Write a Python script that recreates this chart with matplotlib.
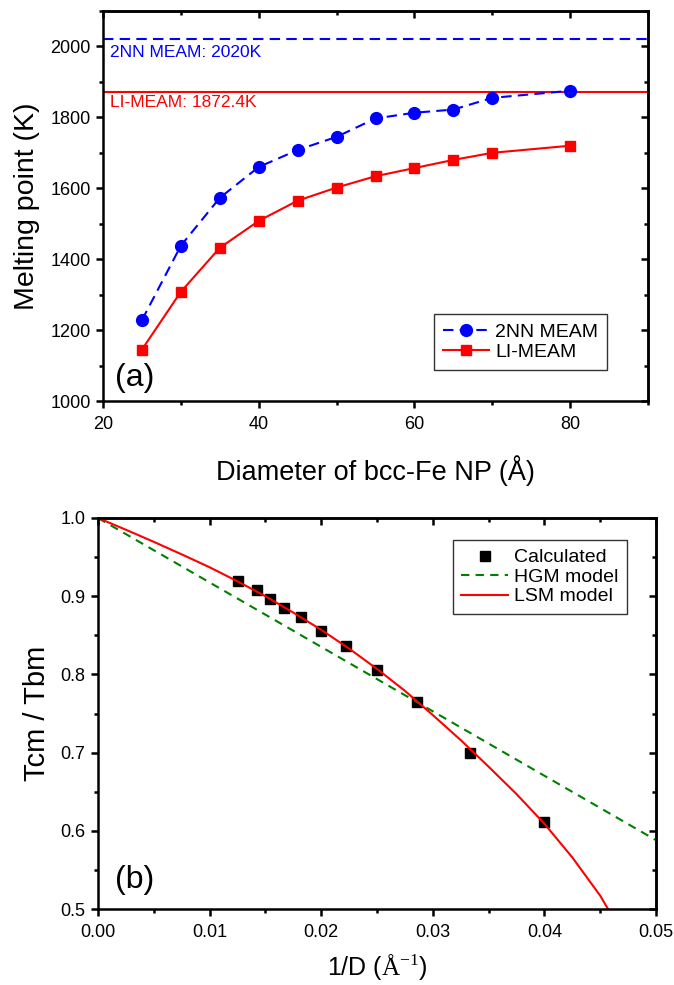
import numpy as np
import matplotlib
matplotlib.use('Agg')
import matplotlib.pyplot as plt
from matplotlib.ticker import MultipleLocator, FormatStrFormatter

plt.rcParams['font.family'] = ['Liberation Sans', 'DejaVu Sans']
plt.rcParams['mathtext.fontset'] = 'custom'
plt.rcParams['mathtext.rm'] = 'Liberation Serif'

# (a) melting point vs diameter
diam = [25, 30, 35, 40, 45, 50, 55, 60, 65, 70, 80]
tm_2nn = [1228, 1438, 1573, 1660, 1708, 1745, 1797, 1813, 1822, 1855, 1875]
tm_li = [1145, 1308, 1432, 1508, 1565, 1602, 1634, 1657, 1680, 1700, 1720]
bulk_2nn = 2020
bulk_li = 1872.4

# (b) normalised melting point vs 1/D
inv_d = [1 / d for d in diam]
ratio_calc = [0.611, 0.699, 0.765, 0.805, 0.836, 0.856, 0.873, 0.885, 0.897, 0.908, 0.919]
hgm_x = [0.0, 0.05]
hgm_y = [1.0, 0.588]
lsm_x = [0.0, 0.0025, 0.005, 0.0075, 0.01, 0.0125, 0.015, 0.0175, 0.02, 0.0225, 0.025,
         0.0275, 0.03, 0.0325, 0.035, 0.0375, 0.04, 0.0425, 0.045, 0.0457]
lsm_y = [1.0, 0.985, 0.9695, 0.9535, 0.937, 0.919, 0.900, 0.879, 0.857, 0.833, 0.807,
         0.779, 0.748, 0.716, 0.682, 0.647, 0.609, 0.566, 0.517, 0.5]

W, H = 674, 985
fig = plt.figure(figsize=(W / 100, H / 100), dpi=100)
ax1 = fig.add_axes([103 / W, 1 - 401 / H, 545 / W, 390 / H])
ax2 = fig.add_axes([98 / W, 1 - 909 / H, 558 / W, 391 / H])


def style(ax, xmaj, xmin, ymaj, ymin):
    for s in ax.spines.values():
        s.set_linewidth(1.8)
    ax.xaxis.set_major_locator(MultipleLocator(xmaj))
    ax.xaxis.set_minor_locator(MultipleLocator(xmin))
    ax.yaxis.set_major_locator(MultipleLocator(ymaj))
    ax.yaxis.set_minor_locator(MultipleLocator(ymin))
    ax.tick_params(which='major', direction='out', length=5, width=1.8, labelsize=13)
    ax.tick_params(which='minor', direction='out', length=3, width=1.8)
    ax.tick_params(axis='x', pad=6)
    ax.tick_params(axis='y', pad=4)
    top = ax.secondary_xaxis('top')
    right = ax.secondary_yaxis('right')
    top.xaxis.set_major_locator(MultipleLocator(xmaj))
    top.xaxis.set_minor_locator(MultipleLocator(xmin))
    right.yaxis.set_major_locator(MultipleLocator(ymaj))
    right.yaxis.set_minor_locator(MultipleLocator(ymin))
    for sec in (top, right):
        sec.tick_params(which='major', direction='in', length=5, width=1.8)
        sec.tick_params(which='minor', direction='in', length=3, width=1.8)
        sec.tick_params(labeltop=False, labelright=False)
        for s in sec.spines.values():
            s.set_linewidth(1.8)


# panel (a)
ax1.axhline(bulk_2nn, color='#0000ff', ls=(0, (5, 3)), lw=1.5)
ax1.axhline(bulk_li, color='#ff0000', lw=1.5)
ax1.plot(diam, tm_2nn, color='#0000ff', ls=(0, (5, 3)), lw=1.5, marker='o', ms=8.5, label='2NN MEAM')
ax1.plot(diam, tm_li, color='#ff0000', lw=1.5, marker='s', ms=7.5, label='LI-MEAM')
ax1.text(20.9, 1982, '2NN MEAM: 2020K', color='#0000ff', fontsize=12.5, va='center')
ax1.text(20.9, 1841, 'LI-MEAM: 1872.4K', color='#ff0000', fontsize=12.5, va='center')
ax1.text(21.5, 1065, '(a)', fontsize=23, va='center')
ax1.set_xlim(20, 90)
ax1.set_ylim(1000, 2100)
style(ax1, 20, 10, 200, 100)
ax1.set_xlabel('Diameter of bcc-Fe NP (Å)', fontsize=19.5, labelpad=16)
ax1.set_ylabel('Melting point (K)', fontsize=20.5, labelpad=7)
leg1 = ax1.legend(loc='lower right', bbox_to_anchor=(607 / W, 1 - 370 / H), bbox_transform=fig.transFigure,
                  fontsize=14, frameon=True, fancybox=False, edgecolor='black', handlelength=2.4,
                  handletextpad=0.3, labelspacing=0.15, borderpad=0.45, borderaxespad=0)
leg1.get_frame().set_linewidth(1.0)

# panel (b)
ax2.plot(inv_d, ratio_calc, ls='none', marker='s', ms=7, color='black', label='Calculated')
ax2.plot(hgm_x, hgm_y, color='#008000', ls=(0, (4, 3)), lw=1.5, label='HGM model')
ax2.plot(lsm_x, lsm_y, color='#ff0000', lw=1.5, label='LSM model')
ax2.text(0.0015, 0.537, '(b)', fontsize=23, va='center')
ax2.set_xlim(0, 0.05)
ax2.set_ylim(0.5, 1.0)
style(ax2, 0.01, 0.005, 0.1, 0.05)
ax2.xaxis.set_major_formatter(FormatStrFormatter('%.2f'))
ax2.yaxis.set_major_formatter(FormatStrFormatter('%.1f'))
ax2.set_xlabel(r'1/D ($\mathrm{\AA}^{-1}$)', fontsize=18, labelpad=8)
ax2.set_ylabel('Tcm / Tbm', fontsize=21, labelpad=7)
leg2 = ax2.legend(loc='upper right', bbox_to_anchor=(627 / W, 1 - 540 / H), bbox_transform=fig.transFigure,
                  fontsize=14, frameon=True, fancybox=False, edgecolor='black', handlelength=2.4,
                  handletextpad=0.3, labelspacing=0.1, borderpad=0.45, borderaxespad=0)
leg2.get_frame().set_linewidth(1.0)

fig.savefig('out.png', dpi=100)
